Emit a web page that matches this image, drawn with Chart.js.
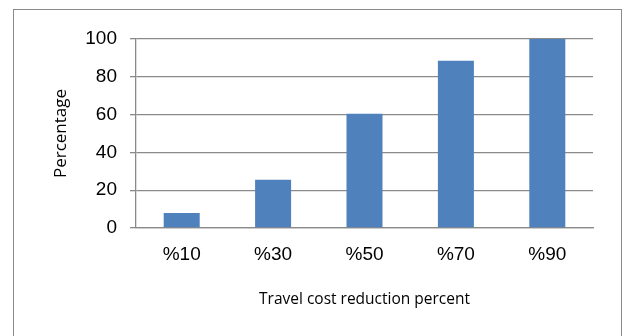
<!DOCTYPE html>
<html>
<head>
<meta charset="utf-8">
<script src="https://cdn.jsdelivr.net/npm/chart.js@4.4.1/dist/chart.umd.min.js"></script>
<style>
  html, body { margin: 0; padding: 0; background: #fff; }
  #wrap { position: relative; width: 625px; height: 336px; overflow: hidden; }
  #frame { position: absolute; left: 13px; top: 9px; width: 607px; height: 400px; border: 1px solid #8a8a8a; }
  #chart { position: absolute; left: 0; top: 0; }
</style>
</head>
<body>
<div id="wrap">
  <div id="frame"></div>
  <canvas id="chart" width="625" height="336"></canvas>
</div>
<script>
var categories = ['%10', '%30', '%50', '%70', '%90'];
var percentValues = [8, 25.5, 60.5, 88.5, 100];
var yTicks = [0, 20, 40, 60, 80, 100];

document.addEventListener('DOMContentLoaded', function () {
    var ctx = document.getElementById('chart').getContext('2d');

    new Chart(ctx, {
        type: 'bar',
        data: {
            labels: categories,
            datasets: [{
                label: 'Percentage',
                data: percentValues,
                backgroundColor: '#4f81bd',
                borderWidth: 0,
                categoryPercentage: 1,
                barPercentage: 0.394
            }]
        },
        options: {
            responsive: false,
            animation: false,
            layout: { padding: { top: 39, right: 32, left: 0, bottom: 0 } },
            plugins: { legend: { display: false }, tooltip: { enabled: false } },
            scales: {
                x: {
                    afterFit: function (scale) { scale.height = 108; },
                    grid: { display: false, drawTicks: false },
                    border: { display: true, color: '#8a8a8a', width: 1.3 },
                    ticks: { color: '#000', padding: 15, font: { family: 'Liberation Sans', size: 19 } },
                    title: {
                        display: true,
                        text: 'Travel cost reduction percent',
                        color: '#000',
                        font: { family: 'Open Sans', size: 15.5 },
                        padding: { top: 0, bottom: 27 }
                    }
                },
                y: {
                    min: 0,
                    max: 100,
                    afterFit: function (scale) { scale.width = 136; },
                    afterBuildTicks: function (scale) {
                        scale.ticks = yTicks.map(function (v) { return { value: v }; });
                    },
                    grid: { color: '#8a8a8a', lineWidth: 1.3, drawTicks: true, tickLength: 6 },
                    border: { display: true, color: '#8a8a8a', width: 1.3 },
                    ticks: { color: '#000', padding: 13, font: { family: 'Liberation Sans', size: 19 } },
                    title: {
                        display: true,
                        text: 'Percentage',
                        color: '#000',
                        font: { family: 'Open Sans', size: 17 },
                        padding: { top: 51, bottom: 0 }
                    }
                }
            }
        }
    });
});
</script>
</body>
</html>
